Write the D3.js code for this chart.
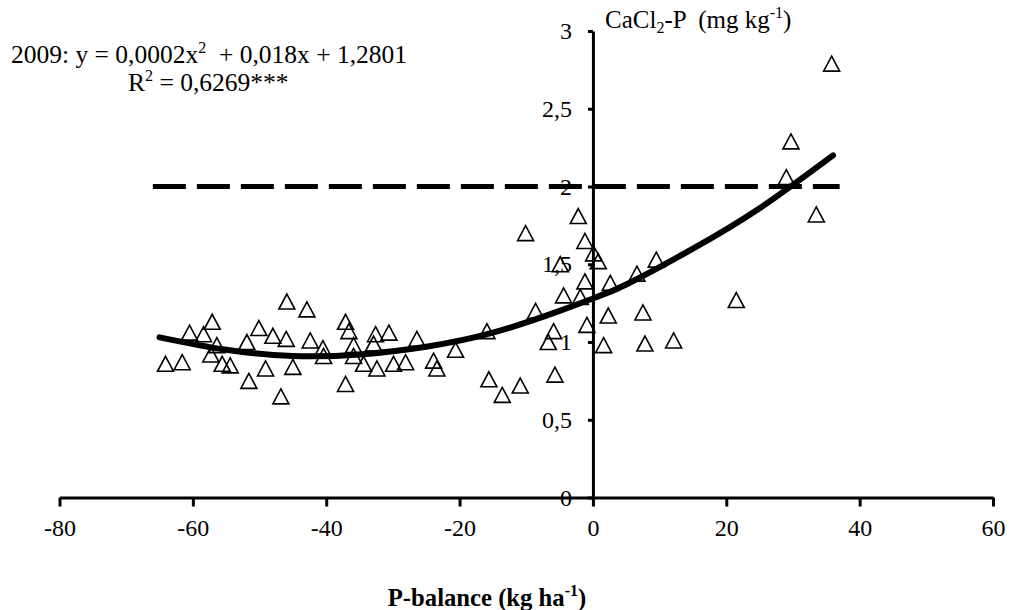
<!DOCTYPE html>
<html>
<head>
<meta charset="utf-8">
<script src="https://cdn.jsdelivr.net/npm/d3@7"></script>
<style>
  body { margin: 0; background: #fff; }
  svg { display: block; font-family: "Liberation Serif", "Times New Roman", serif; }
  .lbl { white-space: pre; }
</style>
</head>
<body>
<script>
// values
var xTicks = [-80, -60, -40, -20, 0, 20, 40, 60];
var yTicks = [0, 0.5, 1, 1.5, 2, 2.5, 3];

var pBalance = [-64.1, -61.6, -60.5, -58.4, -57.1, -56.4, -57.3, -55.6, -54.4, -51.9,
  -51.6, -50.1, -49.1, -48.0, -46.8, -45.9, -46.0, -45.0, -42.9, -42.4,
  -40.5, -40.4, -37.1, -36.6, -35.9, -35.9, -37.1, -34.4, -32.9, -32.6,
  -32.4, -30.6, -29.9, -28.1, -26.4, -23.9, -23.4, -20.6, -15.9, -15.6,
  -13.6, -10.9, -10.1, -8.6, -5.9, -6.7, -5.7, -4.4, -4.9, -2.2,
  -1.2, 0.1, 0.8, -1.2, -1.9, -0.9, 1.6, 2.6, 2.3, 6.6,
  9.5, 7.5, 7.8, 12.1, 21.5, 29.0, 29.7, 33.5, 35.8];
var cacl2P = [0.86, 0.87, 1.06, 1.05, 1.13, 0.98, 0.92, 0.86, 0.85, 1.00,
  0.75, 1.09, 0.83, 1.04, 0.65, 1.26, 1.02, 0.84, 1.21, 1.01,
  0.96, 0.91, 1.13, 1.07, 0.98, 0.91, 0.73, 0.86, 0.99, 1.05,
  0.83, 1.06, 0.86, 0.87, 1.02, 0.88, 0.83, 0.95, 1.07, 0.76,
  0.66, 0.72, 1.70, 1.20, 1.07, 1.00, 0.79, 1.30, 1.50, 1.81,
  1.65, 1.57, 1.52, 1.39, 1.29, 1.11, 0.98, 1.38, 1.17, 1.44,
  1.53, 1.19, 0.99, 1.01, 1.27, 2.06, 2.29, 1.82, 2.79];

// fitted curve as drawn
var trendX = [-65, -55, -45, -35, -25, -15, -5, 0, 5, 15, 25, 36];
var trendY = [1.03, 0.95, 0.91, 0.92, 0.97, 1.06, 1.20, 1.28, 1.37, 1.60, 1.86, 2.20];

var limitX = [-66, 37];
var limitY = 2;

var W = 1011, H = 610;
var svg = d3.select("body").append("svg").attr("width", W).attr("height", H);

var x = d3.scaleLinear().domain([-80, 60]).range([59.5, 993]);
var y = d3.scaleLinear().domain([0, 3]).range([497.5, 31]);

var fmt = function(d) { return String(d).replace(".", ","); };

// markers
var tri = "M0,-7.5L8,7.5L-8,7.5Z";
svg.append("g").selectAll("path")
  .data(pBalance.map(function(d, i) { return [d, cacl2P[i]]; }))
  .enter().append("path")
  .attr("d", tri)
  .attr("transform", function(d) { return "translate(" + x(d[0]) + "," + y(d[1]) + ")"; })
  .attr("fill", "none")
  .attr("stroke", "#000")
  .attr("stroke-width", 1.6);

// dashed limit line
svg.append("line")
  .attr("x1", x(limitX[0])).attr("x2", x(limitX[1]))
  .attr("y1", y(limitY)).attr("y2", y(limitY))
  .attr("stroke", "#000").attr("stroke-width", 5)
  .attr("stroke-dasharray", "33,11");

// trend curve
var line = d3.line()
  .x(function(d, i) { return x(trendX[i]); })
  .y(function(d) { return y(d); })
  .curve(d3.curveNatural);
svg.append("path")
  .attr("d", line(trendY))
  .attr("fill", "none")
  .attr("stroke", "#000")
  .attr("stroke-width", 6)
  .attr("stroke-linecap", "round");

// axes
var xAxis = svg.append("g")
  .attr("transform", "translate(0," + y(0) + ")")
  .call(d3.axisBottom(x).tickValues(xTicks).tickFormat(fmt).tickSize(9).tickSizeOuter(0).tickPadding(12));
var yAxis = svg.append("g")
  .attr("transform", "translate(" + x(0) + ",0)")
  .call(d3.axisLeft(y).tickValues(yTicks).tickFormat(fmt).tickSize(5).tickSizeOuter(0).tickPadding(16));

[xAxis, yAxis].forEach(function(g) {
  g.select(".domain").attr("stroke", "#000").attr("stroke-width", 3);
  g.selectAll(".tick line").attr("stroke", "#000").attr("stroke-width", 3);
  g.selectAll(".tick text")
    .attr("fill", "#000")
    .style("font-family", "'Liberation Serif', 'Times New Roman', serif")
    .style("font-size", "24px");
});

// titles
var yt = svg.append("text").attr("x", 605).attr("y", 28)
  .attr("class", "lbl").style("font-size", "25px");
yt.append("tspan").text("CaCl");
yt.append("tspan").attr("dy", 5).style("font-size", "16px").text("2");
yt.append("tspan").attr("dy", -5).text("-P  (mg kg");
yt.append("tspan").attr("dy", -10).style("font-size", "16px").text("-1");
yt.append("tspan").attr("dy", 10).text(")");

var xt = svg.append("text").attr("x", 487).attr("y", 606)
  .attr("text-anchor", "middle").attr("class", "lbl")
  .style("font-size", "24.7px").style("font-weight", "bold");
xt.append("tspan").text("P-balance (kg ha");
xt.append("tspan").attr("dy", -10).style("font-size", "16px").text("-1");
xt.append("tspan").attr("dy", 10).text(")");

// equation
var eq = svg.append("text").attr("x", 11).attr("y", 63)
  .attr("class", "lbl").style("font-size", "25.5px");
eq.append("tspan").text("2009: y = 0,0002x");
eq.append("tspan").attr("dy", -10).style("font-size", "16px").text("2");
eq.append("tspan").attr("dy", 10).text("  + 0,018x + 1,2801");

var r2 = svg.append("text").attr("x", 128).attr("y", 91)
  .attr("class", "lbl").style("font-size", "25.5px");
r2.append("tspan").text("R");
r2.append("tspan").attr("dy", -10).style("font-size", "16px").text("2");
r2.append("tspan").attr("dy", 10).text(" = 0,6269***");
</script>
</body>
</html>
